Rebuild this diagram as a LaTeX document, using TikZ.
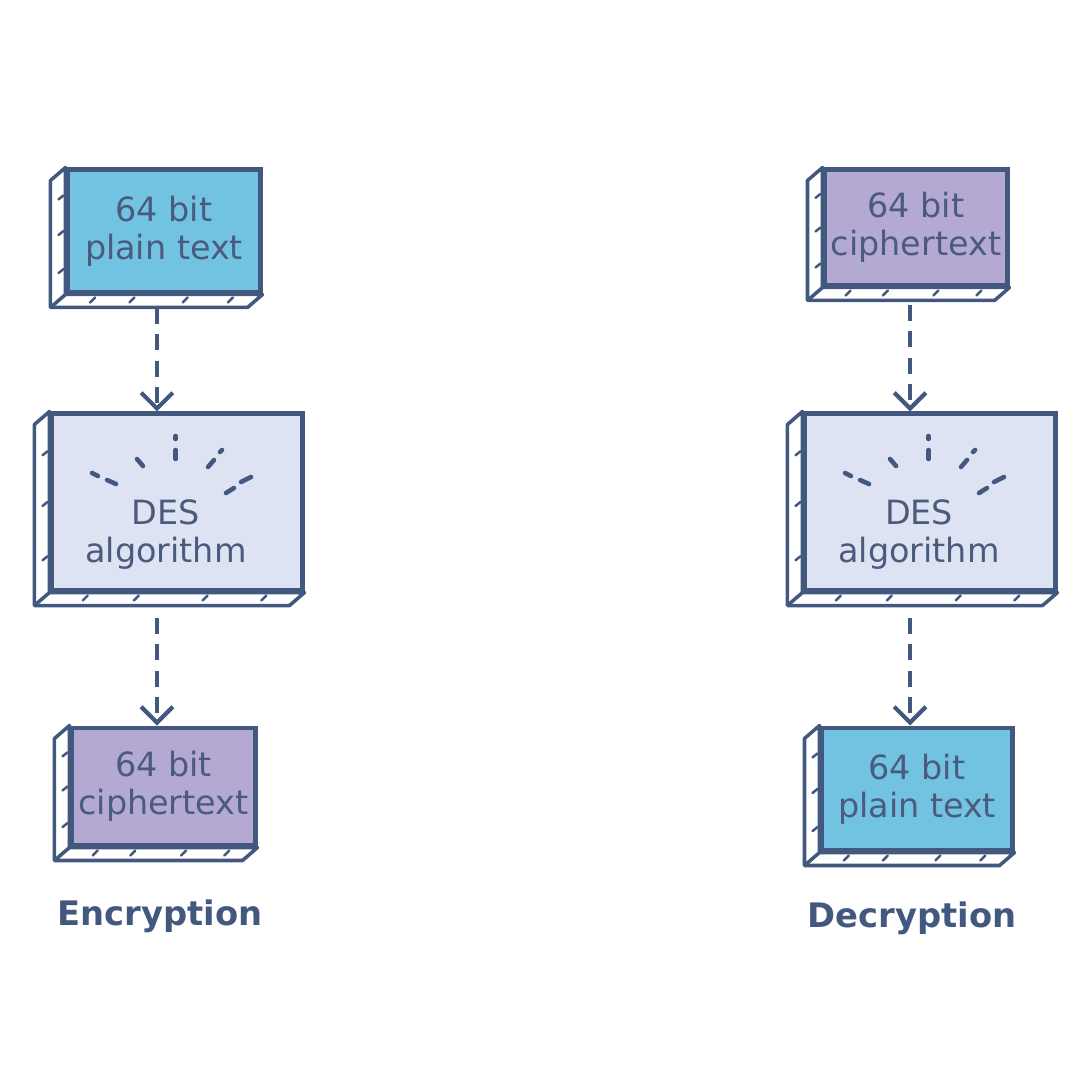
\documentclass[tikz,border=0pt]{standalone}
\usepackage{fontspec}
\setmainfont{DejaVu Sans}
\usetikzlibrary{arrows.meta,calc,backgrounds,positioning}

\definecolor{ink}{HTML}{43587F}
\definecolor{txt}{HTML}{4B5B7E}
\definecolor{cyanf}{HTML}{72C3E1}
\definecolor{purpf}{HTML}{B3A9D3}
\definecolor{desf}{HTML}{DDE3F3}

\begin{document}
\begin{tikzpicture}[x=0.01cm, y=-0.01cm, >={Straight Barb[length=4.5pt,width=9pt]},
    face/.style={draw=ink, line width=1.4pt, text=txt, align=center, inner sep=0pt, font=\fontsize{9.5}{10.8}\selectfont},
    lbl/.style={text=txt, align=center, inner sep=0pt, font=\fontsize{9.5}{10.8}\selectfont},
    side/.style={draw=ink, line width=1pt, fill=white, line join=round},
    hatch/.style={ink, line width=0.7pt, line cap=round},
    ray/.style={ink, line width=1.3pt, line cap=round},
    flow/.style={->, ink, line width=1.2pt, dash pattern=on 4.5pt off 3pt},
    title/.style={text=ink, inner sep=0pt, font=\bfseries\fontsize{9.6}{11}\selectfont}]
    \useasboundingbox (0,0) rectangle (1080,1080);

    % encryption column
    \node[face, fill=cyanf, minimum width=1.92cm, minimum height=1.22cm] (pl1) at (164,231) {64 bit\\plain text};
    \node[face, fill=desf, minimum width=2.5cm, minimum height=1.76cm] (des1) at (177,502) {};
    \node[face, fill=purpf, minimum width=1.83cm, minimum height=1.17cm] (ct1) at (163.5,786.5) {64 bit\\ciphertext};
    \node[lbl] (dest1) at ($(des1.center)+(-11,33)$) {DES\\algorithm};
    \node[title] (enc) at (160,916) {Encryption};

    % decryption column
    \node[face, fill=purpf, minimum width=1.82cm, minimum height=1.15cm] (ct2) at (916,227.5) {64 bit\\ciphertext};
    \node[face, fill=desf, minimum width=2.5cm, minimum height=1.76cm] (des2) at (930,502) {};
    \node[face, fill=cyanf, minimum width=1.9cm, minimum height=1.22cm] (pl2) at (917,789) {64 bit\\plain text};
    \node[lbl] (dest2) at ($(des2.center)+(-11,33)$) {DES\\algorithm};
    \node[title] (dec) at (912,918) {Decryption};

    % 3d sides
    \begin{scope}[on background layer]
        \foreach \n in {pl1,des1,ct1,ct2,des2,pl2}{
            \draw[side] (\n.north west) -- ++(-15,13) |- ($(\n.south east)+(-15,13)$) -- (\n.south east) -- (\n.south west) -- cycle;
            \draw[side] (\n.south west) -- ++(-15,13);
            \foreach \f in {0.22,0.5,0.8}
                \draw[hatch] ($(\n.north west)!\f!(\n.south west)+(-2,0)$) -- ++(-5,4);
            \foreach \f in {0.15,0.35,0.62,0.85}
                \draw[hatch] ($(\n.south west)!\f!(\n.south east)+(0,3)$) -- ++(-5,5);
        }
    \end{scope}

    % rays
    \foreach \d in {des1,des2}{
        \foreach \a/\b in {{-1.3,-66}/{-1.3,-63}, {-1.3,-52}/{-1.3,-43}, {-40,-43}/{-34,-36},
                           {43,-50}/{45,-52}, {31,-35}/{37,-42}, {-85,-29}/{-79,-26},
                           {-70,-22}/{-61,-18}, {64,-20}/{74,-25}, {49,-9}/{57,-14}}
            \draw[ray] ($(\d.center)+(\a)$) -- ($(\d.center)+(\b)$);
    }

    % arrows
    \coordinate (a1) at (157,308);
    \coordinate (a2) at (157,618);
    \coordinate (a3) at (910,305);
    \coordinate (a4) at (910,618);
    \draw[flow] (a1) -- (a1 |- des1.north);
    \draw[flow] (a2) -- (a2 |- ct1.north);
    \draw[flow] (a3) -- (a3 |- des2.north);
    \draw[flow] (a4) -- (a4 |- pl2.north);
\end{tikzpicture}
\end{document}
